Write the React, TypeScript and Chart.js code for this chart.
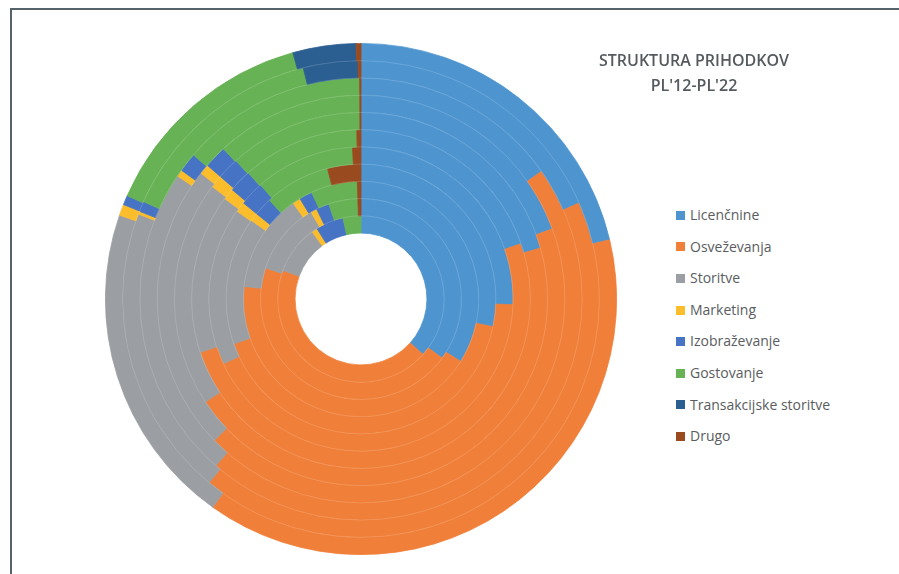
import React, { useEffect, useRef } from "react";
import { Chart, registerables } from "chart.js";

Chart.register(...registerables);

// Revenue structure per fiscal year (share in %), ring order: PL'12 inner -> PL'22 outer
const years = ["PL'12", "PL'13", "PL'14", "PL'15", "PL'16", "PL'17", "PL'18", "PL'19", "PL'20", "PL'21", "PL'22"];
const categories = ["Licenčnine", "Osveževanja", "Storitve", "Marketing", "Izobraževanje", "Gostovanje", "Transakcijske storitve", "Drugo"];

const licencnine = [36.6, 35.0, 33.9, 28.3, 25.6, 19.7, 20.6, 19.4, 15.2, 18.4, 21.3];
const osvezevanja = [44.0, 45.0, 42.8, 41.3, 42.4, 50.2, 45.1, 43.4, 46.2, 42.6, 38.6];
const storitve = [9.4, 11.7, 13.5, 15.3, 16.8, 15.2, 19.6, 22.8, 23.0, 19.8, 20.5];
const marketing = [1.1, 1.0, 1.1, 1.0, 1.1, 1.1, 1.1, 0.8, 0.5, 0.2, 0.7];
const izobrazevanje = [5.4, 2.1, 1.8, 2.2, 2.6, 2.2, 1.9, 1.8, 1.4, 0.7, 0.6];
const gostovanje = [3.5, 4.7, 6.4, 7.9, 10.6, 11.2, 11.6, 11.7, 13.6, 14.4, 14.1];
const transakcijske = [0, 0, 0, 0, 0, 0, 0, 0, 0, 3.7, 4.0];
const drugo = [0, 0.5, 0.5, 4.0, 0.9, 0.4, 0.1, 0.1, 0.1, 0.2, 0.3];

const series = [licencnine, osvezevanja, storitve, marketing, izobrazevanje, gostovanje, transakcijske, drugo];
const colors = ["#4e95d0", "#f07f39", "#9b9ea2", "#fbbd2c", "#4673c3", "#67b255", "#2c5f91", "#9a4a1f"];

const ringSeparators = {
  id: "ringSeparators",
  afterDatasetsDraw(chart: any) {
    const ctx = chart.ctx;
    ctx.save();
    ctx.strokeStyle = "rgba(255,255,255,0.14)";
    ctx.lineWidth = 1;
    const n = chart.data.datasets.length;
    chart.data.datasets.forEach((_: any, i: number) => {
      if (i === n - 1) return;
      const meta = chart.getDatasetMeta(i);
      const arc = meta.data[0];
      if (!arc) return;
      ctx.beginPath();
      ctx.arc(arc.x, arc.y, meta.controller.innerRadius, 0, Math.PI * 2);
      ctx.stroke();
    });
    ctx.restore();
  },
};

function DoughnutChart() {
  const ref = useRef<HTMLCanvasElement | null>(null);
  useEffect(() => {
    if (!ref.current) return;
    // Chart.js draws dataset 0 outermost, so start with the latest year
    const order = years.map((_, i) => i).reverse();
    const chart = new Chart(ref.current, {
      type: "doughnut",
      data: {
        labels: categories,
        datasets: order.map((yi) => ({
          label: years[yi],
          data: series.map((s) => s[yi]),
          backgroundColor: colors,
          borderColor: colors,
          borderWidth: (c: any) => (c.raw > 0 ? 0.8 : 0),
        })),
      },
      options: {
        responsive: false,
        maintainAspectRatio: false,
        animation: false,
        cutout: "25.8%",
        layout: { padding: 0 },
        plugins: {
          legend: { display: false },
          tooltip: { enabled: false },
          title: { display: false },
        },
      },
      plugins: [ringSeparators],
    });
    return () => chart.destroy();
  }, []);
  return <canvas ref={ref} width={512} height={512} style={{ position: "absolute", left: 105, top: 43, width: 512, height: 512 }} />;
}

export default function App() {
  return (
    <div style={{ position: "absolute", left: 0, top: 0, width: 899, height: 574, background: "#fff", overflow: "hidden", fontFamily: "'Open Sans', sans-serif" }}>
      <div style={{ position: "absolute", left: 10, top: 8, width: 900, height: 580, borderTop: "2px solid #56636a", borderLeft: "2px solid #56636a", boxSizing: "border-box" }} />
      <DoughnutChart />
      <div style={{ position: "absolute", left: 594, top: 48, width: 200, textAlign: "center", fontSize: 16, lineHeight: "25px", fontWeight: 600, color: "#555a5e" }}>
        <div>STRUKTURA PRIHODKOV</div>
        <div>PL'12-PL'22</div>
      </div>
      <div style={{ position: "absolute", left: 676, top: 199, fontSize: 14, color: "#5a5d60" }}>
        {categories.map((c, i) => (
          <div key={c} style={{ height: 31.6, lineHeight: "31.6px", display: "flex", alignItems: "center", whiteSpace: "nowrap" }}>
            <span style={{ display: "inline-block", width: 9, height: 9, background: colors[i], marginRight: 5, marginTop: 1 }} />
            <span>{c}</span>
          </div>
        ))}
      </div>
    </div>
  );
}
